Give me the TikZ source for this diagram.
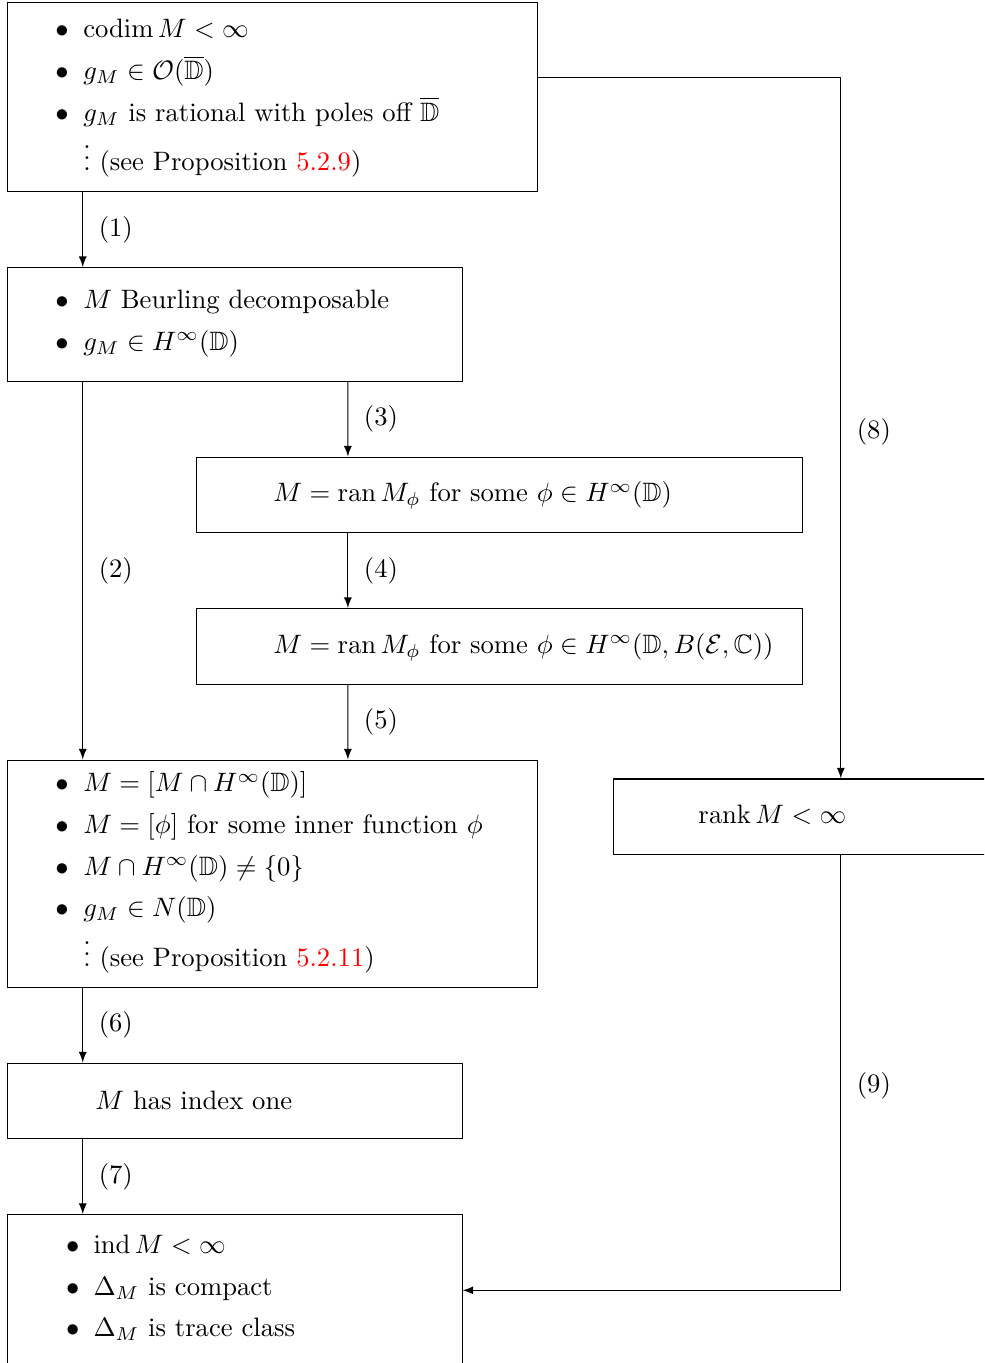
\documentclass[tikz,border=0pt]{standalone}
\usepackage{amsmath,amssymb}
\begin{document}
\begin{tikzpicture}[
  box/.style={draw, rectangle, inner sep=0pt, anchor=north west},
  txt/.style={inner sep=0pt, anchor=base west},
  bul/.style={inner sep=0pt, anchor=base},
  arr/.style={-latex},
  lab/.style={right, xshift=2.5pt}
]
\useasboundingbox (0,0) rectangle (12.990,-17.993);
\clip (0,0) rectangle (12.990,-17.993);
\begin{scope}[shift={(0.0924,-0.0264)}]
% boxes
\node[box, minimum width=7cm, minimum height=2.5cm] (A) at (0,0) {};
\node[box, minimum width=6cm, minimum height=1.5cm] (B) at (0,-3.5) {};
\node[box, minimum width=8cm, minimum height=1cm] (C) at (2.5,-6) {};
\node[box, minimum width=8cm, minimum height=1cm] (D) at (2.5,-8) {};
\node[box, minimum width=7cm, minimum height=3cm] (E) at (0,-10) {};
\node[box, minimum width=6cm, minimum height=1cm] (F) at (8,-10.25) {};
\node[box, minimum width=6cm, minimum height=1cm] (G) at (0,-14) {};
\node[box, minimum width=6cm, minimum height=2cm] (H) at (0,-16) {};
% box A text
\node[bul] (a1b) at (0.726,-0.475) {$\bullet$};
\node[txt] (a1) at (1.0,-0.475) {$\operatorname{codim} M < \infty$};
\node[bul] (a2b) at (0.726,-1.023) {$\bullet$};
\node[txt] (a2) at (1.0,-1.023) {$g_M \in \mathcal{O}(\overline{\mathbb{D}})$};
\node[bul] (a3b) at (0.726,-1.571) {$\bullet$};
\node[txt] (a3) at (1.0,-1.571) {$g_M$ is rational with poles off $\overline{\mathbb{D}}$};
\node[txt] (a4) at (1.0,-2.218) {$\vdots$ (see Proposition \textcolor{red}{5.2.9})};
% box B text
\node[bul] (b1b) at (0.726,-4.04) {$\bullet$};
\node[txt] (b1) at (1.0,-4.04) {$M$ Beurling decomposable};
\node[bul] (b2b) at (0.726,-4.598) {$\bullet$};
\node[txt] (b2) at (1.0,-4.598) {$g_M \in H^\infty(\mathbb{D})$};
% box C, D text
\node[txt] (c1) at (3.51,-6.597) {$M = \operatorname{ran} M_\phi$ for some $\phi \in H^\infty(\mathbb{D})$};
\node[txt] (d1) at (3.51,-8.594) {$M = \operatorname{ran} M_\phi$ for some $\phi \in H^\infty(\mathbb{D}, B(\mathcal{E},\mathbb{C}))$};
% box E text
\node[bul] (e1b) at (0.726,-10.425) {$\bullet$};
\node[txt] (e1) at (1.0,-10.425) {$M = [M \cap H^\infty(\mathbb{D})]$};
\node[bul] (e2b) at (0.726,-10.97) {$\bullet$};
\node[txt] (e2) at (1.0,-10.97) {$M = [\phi]$ for some inner function $\phi$};
\node[bul] (e3b) at (0.726,-11.525) {$\bullet$};
\node[txt] (e3) at (1.0,-11.525) {$M \cap H^\infty(\mathbb{D}) \neq \{0\}$};
\node[bul] (e4b) at (0.726,-12.075) {$\bullet$};
\node[txt] (e4) at (1.0,-12.075) {$g_M \in N(\mathbb{D})$};
\node[txt] (e5) at (1.0,-12.727) {$\vdots$ (see Proposition \textcolor{red}{5.2.11})};
% box F text
\node[txt] (f1) at (9.12,-10.84) {$\operatorname{rank} M < \infty$};
% box G text
\node[txt] (g1) at (1.16,-14.62) {$M$ has index one};
% box H text
\node[bul] (h1b) at (0.87,-16.515) {$\bullet$};
\node[txt] (h1) at (1.135,-16.515) {$\operatorname{ind} M < \infty$};
\node[bul] (h2b) at (0.87,-17.07) {$\bullet$};
\node[txt] (h2) at (1.135,-17.07) {$\Delta_M$ is compact};
\node[bul] (h3b) at (0.87,-17.62) {$\bullet$};
\node[txt] (h3) at (1.135,-17.62) {$\Delta_M$ is trace class};
% arrows
\draw[arr] ([xshift=1cm]A.south west) -- node[lab] {(1)} ([xshift=1cm]B.north west);
\draw[arr] ([xshift=1cm]B.south west) -- node[lab] {(2)} ([xshift=1cm]E.north west);
\draw[arr] ([xshift=4.5cm]B.south west) -- node[lab] {(3)} ([xshift=2cm]C.north west);
\draw[arr] ([xshift=2cm]C.south west) -- node[lab] {(4)} ([xshift=2cm]D.north west);
\draw[arr] ([xshift=2cm]D.south west) -- node[lab] {(5)} ([xshift=4.5cm]E.north west);
\draw[arr] ([xshift=1cm]E.south west) -- node[lab] {(6)} ([xshift=1cm]G.north west);
\draw[arr] ([xshift=1cm]G.south west) -- node[lab] {(7)} ([xshift=1cm]H.north west);
\draw[arr] ([yshift=-1cm]A.north east) -| node[lab, pos=0.75, yshift=-0.05cm] {(8)} (F.north);
\draw[arr] (F.south) |- node[lab, pos=0.25, yshift=-0.17cm] {(9)} (H.east);
\end{scope}
\end{tikzpicture}
\end{document}
